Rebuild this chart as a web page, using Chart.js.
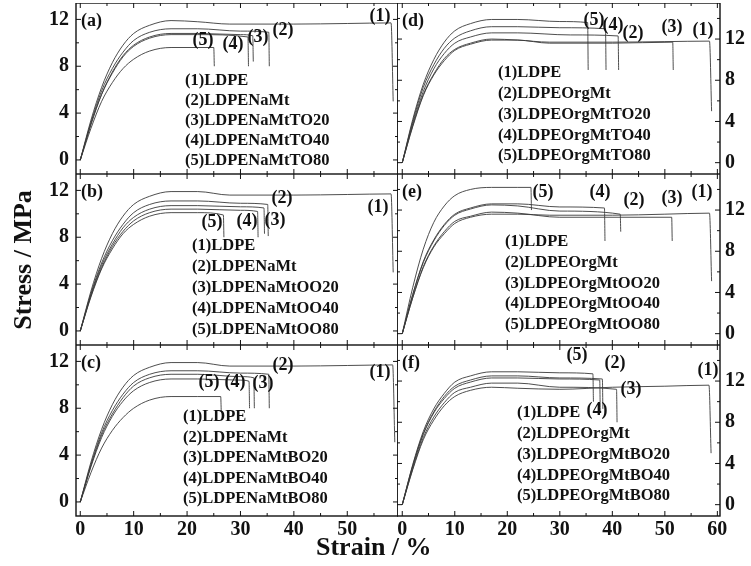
<!DOCTYPE html>
<html>
<head>
<meta charset="utf-8">
<script src="https://cdn.jsdelivr.net/npm/chart.js@4"></script>
<style>
  body { margin:0; background:#fff; width:751px; height:566px; position:relative; overflow:hidden; font-family:"Liberation Serif", serif; }
  canvas { position:absolute; }
  .ttl { position:absolute; font-weight:bold; font-size:26px; color:#111; white-space:nowrap; }
</style>
</head>
<body>
<canvas id="pa"></canvas><canvas id="pb"></canvas><canvas id="pc"></canvas>
<canvas id="pd"></canvas><canvas id="pe"></canvas><canvas id="pf"></canvas>
<div class="ttl" style="left:-57px;top:245px;transform:rotate(-90deg);width:160px;text-align:center;">Stress / MPa</div>
<div class="ttl" style="left:316px;top:532px;">Strain / %</div>
<script>
// ---------------------------------------------------------------
// DATA — [strain %, stress MPa]
// ---------------------------------------------------------------
const a1 = [[0,0],[2,3.4],[4,6.2],[6,8.3],[8,9.8],[10,10.8],[13,11.5],[17,11.9],[22,11.8],[28,11.6],[40,11.6],[50,11.65],[58.2,11.7],[58.6,5.0]];
const a2 = [[0,0],[2,3.2],[4,5.9],[6,7.8],[8,9.2],[10,10.2],[13,10.9],[17,11.2],[22,11.2],[30,11.0],[35.3,10.9],[35.4,8.0]];
const a3 = [[0,0],[2,3.1],[4,5.6],[6,7.5],[8,8.9],[10,9.8],[13,10.5],[17,10.8],[22,10.8],[30,10.7],[32.3,10.6],[32.4,8.4]];
const a4 = [[0,0],[2,3.0],[4,5.6],[6,7.4],[8,8.8],[10,9.7],[13,10.4],[17,10.7],[22,10.7],[31.4,10.5],[31.5,8.0]];
const a5 = [[0,0],[2,2.7],[4,5.0],[6,6.6],[8,7.8],[10,8.6],[13,9.3],[17,9.6],[22,9.6],[25,9.6],[25.1,8.0]];

const b1 = [[0,0],[2,3.4],[4,6.2],[6,8.3],[8,9.8],[10,10.8],[13,11.5],[17,11.9],[22,11.9],[28,11.6],[40,11.6],[50,11.65],[58.2,11.7],[58.6,5.0]];
const b2 = [[0,0],[2,3.2],[4,5.8],[6,7.7],[8,9.1],[10,10.1],[13,10.8],[17,11.1],[22,11.1],[30,10.9],[35.1,10.8],[35.2,8.1]];
const b3 = [[0,0],[2,3.1],[4,5.6],[6,7.4],[8,8.8],[10,9.7],[13,10.4],[17,10.7],[22,10.7],[30,10.6],[34.4,10.5],[34.5,8.3]];
const b4 = [[0,0],[2,3.0],[4,5.4],[6,7.2],[8,8.5],[10,9.4],[13,10.1],[17,10.4],[22,10.4],[30,10.3],[33.2,10.2],[33.3,8.0]];
const b5 = [[0,0],[2,2.9],[4,5.3],[6,7.0],[8,8.3],[10,9.1],[13,9.8],[17,10.1],[22,10.1],[26.8,9.9],[26.9,8.0]];

const c1 = [[0,0],[2,3.4],[4,6.2],[6,8.3],[8,9.8],[10,10.8],[13,11.5],[17,11.9],[22,11.9],[28,11.6],[40,11.6],[50,11.65],[58.5,11.7],[58.9,5.1]];
const c2 = [[0,0],[2,3.2],[4,5.9],[6,7.8],[8,9.2],[10,10.2],[13,10.9],[17,11.2],[22,11.2],[30,11.0],[35.3,10.9],[35.4,8.0]];
const c3 = [[0,0],[2,3.1],[4,5.7],[6,7.5],[8,8.9],[10,9.9],[13,10.6],[17,10.9],[22,10.9],[30,10.7],[32.5,10.6],[32.6,8.0]];
const c4 = [[0,0],[2,3.0],[4,5.5],[6,7.3],[8,8.6],[10,9.5],[13,10.2],[17,10.5],[22,10.5],[30,10.4],[31.6,10.3],[31.7,8.0]];
const c5 = [[0,0],[2,2.5],[4,4.6],[6,6.1],[8,7.2],[10,8.0],[13,8.7],[17,9.0],[22,9.0],[26.3,9.0],[26.4,7.7]];

const d1 = [[0,0],[2,3.6],[4,6.6],[6,8.6],[8,10.1],[10,11.0],[13,11.6],[17,12.0],[22,11.9],[28,11.7],[40,11.7],[50,11.75],[58.5,11.8],[58.9,5.0]];
const d2 = [[0,0],[2,3.8],[4,6.9],[6,9.1],[8,10.6],[10,11.6],[13,12.2],[17,12.6],[22,12.6],[32,12.4],[41.1,12.3],[41.2,9.0]];
const d3 = [[0,0],[2,3.5],[4,6.5],[6,8.5],[8,9.9],[10,10.9],[13,11.5],[17,11.9],[22,11.9],[28,11.6],[40,11.6],[51.5,11.7],[51.6,9.0]];
const d4 = [[0,0],[2,4.0],[4,7.3],[6,9.5],[8,11.1],[10,12.1],[13,12.8],[17,13.2],[22,13.2],[30,13.1],[38.7,13.0],[38.8,9.0]];
const d5 = [[0,0],[2,4.2],[4,7.6],[6,10.0],[8,11.7],[10,12.8],[13,13.5],[17,13.9],[22,13.9],[30,13.7],[35.3,13.6],[35.4,9.0]];

const e1 = [[0,0],[2,3.5],[4,6.4],[6,8.4],[8,9.7],[10,10.7],[13,11.3],[17,11.6],[22,11.6],[28,11.5],[40,11.5],[50,11.6],[58.5,11.7],[58.9,5.1]];
const e2 = [[0,0],[2,3.8],[4,6.9],[6,9.0],[8,10.5],[10,11.5],[13,12.1],[17,12.5],[22,12.4],[30,11.9],[41.5,11.6],[41.6,9.9]];
const e3 = [[0,0],[2,3.5],[4,6.5],[6,8.5],[8,9.9],[10,10.9],[13,11.4],[17,11.8],[22,11.7],[30,11.3],[51.3,11.3],[51.4,9.0]];
const e4 = [[0,0],[2,3.8],[4,7.0],[6,9.1],[8,10.6],[10,11.6],[13,12.2],[17,12.6],[22,12.6],[30,12.3],[38.5,12.2],[38.6,9.0]];
const e5 = [[0,0],[2,4.5],[4,8.2],[6,10.8],[8,12.4],[10,13.4],[13,14.0],[17,14.2],[22,14.2],[24.5,14.2],[24.6,12.0]];

const f1 = [[0,0],[2,3.4],[4,6.3],[6,8.2],[8,9.6],[10,10.5],[13,11.1],[17,11.4],[22,11.3],[30,11.2],[40,11.4],[50,11.5],[58.4,11.6],[58.8,5.0]];
const f2 = [[0,0],[2,3.8],[4,6.9],[6,9.0],[8,10.5],[10,11.5],[13,12.1],[17,12.5],[22,12.5],[30,12.3],[38.1,12.2],[38.2,9.3]];
const f3 = [[0,0],[2,3.5],[4,6.5],[6,8.5],[8,9.9],[10,10.9],[13,11.4],[17,11.8],[22,11.8],[30,11.4],[40.8,11.2],[40.9,8.0]];
const f4 = [[0,0],[2,3.7],[4,6.8],[6,8.9],[8,10.3],[10,11.3],[13,11.9],[17,12.3],[22,12.3],[30,12.2],[37.6,12.1],[37.7,9.0]];
const f5 = [[0,0],[2,3.9],[4,7.1],[6,9.3],[8,10.8],[10,11.9],[13,12.5],[17,12.9],[22,12.9],[30,12.8],[36.3,12.7],[36.4,10.0]];

const yTicks  = [0, 4, 8, 12];
const xTicksL = [0, 10, 20, 30, 40, 50];
const xTicksR = [0, 10, 20, 30, 40, 50, 60];

const legA = ["(1)LDPE","(2)LDPENaMt","(3)LDPENaMtTO20","(4)LDPENaMtTO40","(5)LDPENaMtTO80"];
const legB = ["(1)LDPE","(2)LDPENaMt","(3)LDPENaMtOO20","(4)LDPENaMtOO40","(5)LDPENaMtOO80"];
const legC = ["(1)LDPE","(2)LDPENaMt","(3)LDPENaMtBO20","(4)LDPENaMtBO40","(5)LDPENaMtBO80"];
const legD = ["(1)LDPE","(2)LDPEOrgMt","(3)LDPEOrgMtTO20","(4)LDPEOrgMtTO40","(5)LDPEOrgMtTO80"];
const legE = ["(1)LDPE","(2)LDPEOrgMt","(3)LDPEOrgMtOO20","(4)LDPEOrgMtOO40","(5)LDPEOrgMtOO80"];
const legF = ["(1)LDPE","(2)LDPEOrgMt","(3)LDPEOrgMtBO20","(4)LDPEOrgMtBO40","(5)LDPEOrgMtBO80"];

// ---------------------------------------------------------------
// PANEL LAYOUT — canvas boxes, label spots (px from chart-area top-left)
// ---------------------------------------------------------------
const FONT = '"Liberation Serif", "Times New Roman", serif';
const AREA_H = 171;

const panels = [
  { id:"pa", tag:"(a)", side:"L", left:0,   top:3,   bottom:false, curves:[a1,a2,a3,a4,a5], leg:legA, legPos:[109,78,20],
    marks:[[304,13],[207,27],[182,34],[157,41],[127,37]] },
  { id:"pb", tag:"(b)", side:"L", left:0,   top:174, bottom:false, curves:[b1,b2,b3,b4,b5], leg:legB, legPos:[116,72,21],
    marks:[[302,33],[206,24],[199,46],[171,47],[136,48]] },
  { id:"pc", tag:"(c)", side:"L", left:0,   top:345, bottom:true,  curves:[c1,c2,c3,c4,c5], leg:legC, legPos:[107,72,20.5],
    marks:[[304,27],[207,20],[187,38],[159,37],[133,37]] },
  { id:"pd", tag:"(d)", side:"R", left:397, top:3,   bottom:false, curves:[d1,d2,d3,d4,d5], leg:legD, legPos:[101,70,20.8],
    marks:[[306,27],[236,30],[275,24],[216,22],[197,17]] },
  { id:"pe", tag:"(e)", side:"R", left:397, top:174, bottom:false, curves:[e1,e2,e3,e4,e5], leg:legE, legPos:[108,68,20.7],
    marks:[[305,18],[237,26],[275,24],[203,18],[146,18]] },
  { id:"pf", tag:"(f)", side:"R", left:397, top:345, bottom:true,  curves:[f1,f2,f3,f4,f5], leg:legF, legPos:[120,68,20.8],
    marks:[[311,25],[218,18],[234,44],[200,65],[180,10]] },
];

// frame, inward ticks, panel tag, curve numbers and legend text
const decor = {
  id: "decor",
  afterDraw(chart) {
    const p = chart.options.plugins.decor;
    const { ctx, chartArea: ca, scales } = chart;
    ctx.save();
    ctx.strokeStyle = "#111";
    ctx.lineWidth = 1.4;
    ctx.strokeRect(ca.left, ca.top, ca.right - ca.left, ca.bottom - ca.top);
    ctx.lineWidth = 1;
    for (let v = 0; v <= 60; v += 5) {
      const x = scales.x.getPixelForValue(v);
      if (x <= ca.left || x >= ca.right) continue;
      const len = v % 10 === 0 ? 5 : 3;
      ctx.beginPath();
      ctx.moveTo(x, ca.bottom); ctx.lineTo(x, ca.bottom - len);
      ctx.moveTo(x, ca.top);    ctx.lineTo(x, ca.top + len);
      ctx.stroke();
    }
    for (let v = 0; v <= 14; v += 2) {
      const y = scales.y.getPixelForValue(v);
      if (y <= ca.top || y >= ca.bottom) continue;
      const len = v % 4 === 0 ? 5 : 3;
      ctx.beginPath();
      ctx.moveTo(ca.left, y);  ctx.lineTo(ca.left + len, y);
      ctx.moveTo(ca.right, y); ctx.lineTo(ca.right - len, y);
      ctx.stroke();
    }
    ctx.fillStyle = "#111";
    ctx.font = `bold 18px ${FONT}`;
    ctx.textBaseline = "middle";
    ctx.textAlign = "left";
    ctx.fillText(p.tag, ca.left + 5, ca.top + 18);
    ctx.textAlign = "center";
    p.marks.forEach(([mx, my], i) => ctx.fillText(`(${i + 1})`, ca.left + mx, ca.top + my));
    ctx.font = `bold 16.5px ${FONT}`;
    ctx.textAlign = "left";
    const [lx, ly, gap] = p.legPos;
    p.leg.forEach((t, i) => ctx.fillText(t, ca.left + lx, ca.top + ly + i * gap));
    ctx.restore();
  },
};

const tickFont = { family: FONT, size: 20, weight: "bold" };

panels.forEach((p) => {
  const isL = p.side === "L";
  const cv = document.getElementById(p.id);
  const w = isL ? 398 : 354;
  const h = AREA_H + (p.bottom ? 30 : 0);
  cv.style.left = p.left + "px";
  cv.style.top = p.top + "px";
  cv.style.width = w + "px";
  cv.style.height = h + "px";

  new Chart(cv.getContext("2d"), {
    type: "line",
    data: {
      datasets: p.curves.map((c) => ({
        data: c.map(([x, y]) => ({ x, y })),
        borderColor: "#3a3a3a",
        borderWidth: 0.9,
        pointRadius: 0,
        cubicInterpolationMode: "monotone",
        fill: false,
      })),
    },
    options: {
      responsive: false,
      devicePixelRatio: 1,
      animation: false,
      events: [],
      layout: { padding: 0 },
      plugins: {
        legend: { display: false },
        tooltip: { enabled: false },
        decor: { tag: p.tag, marks: p.marks, leg: p.leg, legPos: p.legPos },
      },
      scales: {
        x: {
          type: "linear",
          min: isL ? -0.8 : -1,
          max: isL ? 59.5 : 60.5,
          grid: { display: false, drawTicks: false },
          border: { display: false },
          ticks: { display: p.bottom, font: tickFont, color: "#111", padding: 2, maxRotation: 0 },
          afterBuildTicks: (s) => { s.ticks = (isL ? xTicksL : xTicksR).map((v) => ({ value: v })); },
          afterFit: (s) => { s.height = p.bottom ? 30 : 0; s.paddingLeft = 0; s.paddingRight = 0; },
        },
        y: {
          type: "linear",
          position: isL ? "left" : "right",
          min: isL ? -1.2 : -1.1,
          max: isL ? 13.4 : 15.5,
          grid: { display: false, drawTicks: false },
          border: { display: false },
          ticks: { font: tickFont, color: "#111", padding: isL ? 7 : 5 },
          afterBuildTicks: (s) => { s.ticks = yTicks.map((v) => ({ value: v })); },
          afterFit: (s) => { s.width = isL ? 76 : 31; s.paddingTop = 0; s.paddingBottom = 0; },
        },
      },
    },
    plugins: [decor],
  });
  cv.style.width = w + "px";
  cv.style.height = h + "px";
});
</script>
</body>
</html>
